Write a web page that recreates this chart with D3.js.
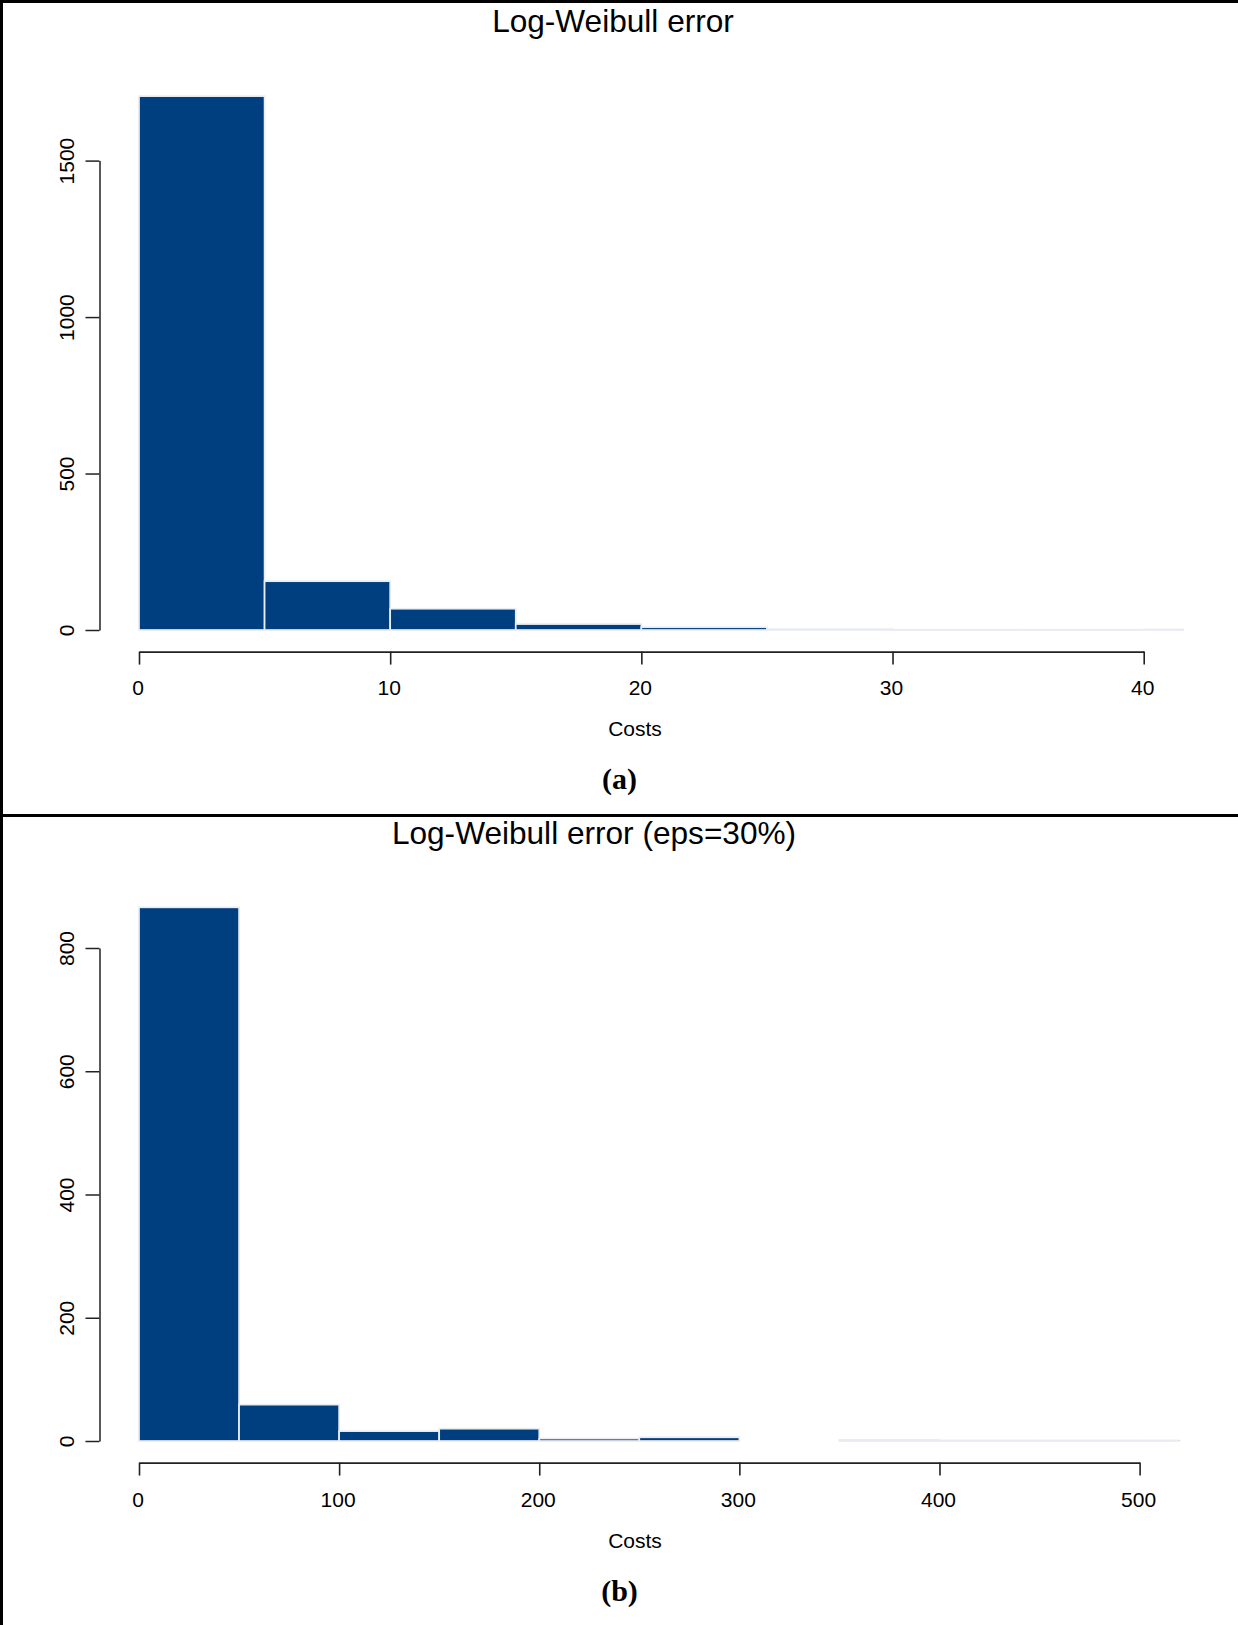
<!DOCTYPE html>
<html>
<head>
<meta charset="utf-8">
<script src="https://cdn.jsdelivr.net/npm/d3@7"></script>
<style>
  html, body { margin: 0; padding: 0; background: #fff; }
  svg { display: block; }
</style>
</head>
<body>
<svg id="chart" width="1238" height="1625"></svg>
<script>
// ---- data ----
const titleA = "Log-Weibull error";
const binEdgesA = [0, 5, 10, 15, 20, 25, 30, 35, 40, 45];
const countsA = [1706, 156, 68, 19, 9, 3, 1, 1, 2];
const xTicksA = [0, 10, 20, 30, 40];
const yTicksA = [0, 500, 1000, 1500];

const titleB = "Log-Weibull error (eps=30%)";
const binEdgesB = [0, 50, 100, 150, 200, 250, 300, 350, 400, 450, 500, 550];
const countsB = [866, 59, 16, 20, 4, 6, 0, 2, 1, 1, 1];
const xTicksB = [0, 100, 200, 300, 400, 500];
const yTicksB = [0, 200, 400, 600, 800];

const xLabel = "Costs";
const panelLabels = ["(a)", "(b)"];

// ---- drawing ----
const svg = d3.select("#chart");
svg.append("rect").attr("width", 1238).attr("height", 1625).attr("fill", "#fff");

const SANS = "'Liberation Sans', Arial, Helvetica, sans-serif";
const SERIF = "'Liberation Serif', 'Times New Roman', serif";
const FILL = "#003f7f";
const BORDER = "#e9ecf1";

function panel(cfg) {
  const g = svg.append("g").attr("transform", `translate(0,${cfg.offset})`);
  const left = 99.5;
  const x = d3.scaleLinear().domain([0, cfg.xTicks[cfg.xTicks.length - 1]]).range([139, cfg.xEnd]);
  const y = d3.scaleLinear().domain([0, cfg.yTicks[cfg.yTicks.length - 1]]).range([cfg.y0, cfg.yTop]);
  const axisY = cfg.y0 + 21.6;
  const right = x(x.domain()[1] * 1.04);

  const clipId = "clip" + cfg.id;
  g.append("clipPath").attr("id", clipId)
    .append("rect").attr("x", left).attr("y", 0).attr("width", right - left).attr("height", axisY);

  const bins = cfg.counts.map((c, i) => ({ x0: cfg.edges[i], x1: cfg.edges[i + 1], c }));
  g.append("g").attr("clip-path", `url(#${clipId})`)
    .selectAll("rect").data(bins).join("rect")
    .attr("x", d => x(d.x0))
    .attr("width", d => x(d.x1) - x(d.x0))
    .attr("y", d => y(d.c))
    .attr("height", d => y(0) - y(d.c))
    .attr("fill", FILL)
    .attr("stroke", BORDER)
    .attr("stroke-width", 1.7);

  // y axis
  const ya = g.append("g").attr("transform", `translate(${left},0)`)
    .call(d3.axisLeft(y).tickValues(cfg.yTicks).tickSize(14).tickSizeOuter(0).tickFormat(d3.format("d")));
  ya.selectAll("path, line").attr("stroke", "#222").attr("stroke-width", 1.5);
  ya.selectAll("text")
    .attr("x", 0).attr("dy", "0.35em")
    .attr("text-anchor", "middle")
    .attr("transform", `translate(${66.5 - left},0) rotate(-90)`)
    .attr("font-family", SANS).attr("font-size", 21).attr("fill", "#000");
  ya.attr("font-family", null).attr("font-size", null);

  // x axis
  const xa = g.append("g").attr("transform", `translate(0,${axisY})`)
    .call(d3.axisBottom(x).tickValues(cfg.xTicks).tickSize(13).tickSizeOuter(0).tickFormat(d3.format("d")));
  xa.selectAll("path, line").attr("stroke", "#222").attr("stroke-width", 1.6);
  xa.selectAll("text")
    .attr("x", -1.5)
    .attr("y", 688 - axisY).attr("dy", "0.35em")
    .attr("font-family", SANS).attr("font-size", 21).attr("fill", "#000");
  xa.attr("font-family", null).attr("font-size", null);

  // title
  g.append("text").attr("x", cfg.titleX).attr("y", 21).attr("dy", "0.35em")
    .attr("text-anchor", "middle").attr("font-family", SANS).attr("font-size", 31.6)
    .attr("fill", "#000").text(cfg.title);
  // x label
  g.append("text").attr("x", 635).attr("y", 729).attr("dy", "0.35em")
    .attr("text-anchor", "middle").attr("font-family", SANS).attr("font-size", 21)
    .attr("fill", "#000").text(xLabel);
  // panel label
  g.append("text").attr("x", 619.5).attr("y", 778).attr("dy", "0.35em")
    .attr("text-anchor", "middle").attr("font-family", SERIF).attr("font-size", 30)
    .attr("font-weight", "bold").attr("fill", "#000").text(cfg.label);
}

panel({ id: "A", offset: 0, title: titleA, titleX: 613, edges: binEdgesA, counts: countsA,
        xTicks: xTicksA, yTicks: yTicksA, xEnd: 1143.7, y0: 630, yTop: 160.6, label: panelLabels[0] });
panel({ id: "B", offset: 812, title: titleB, titleX: 594, edges: binEdgesB, counts: countsB,
        xTicks: xTicksB, yTicks: yTicksB, xEnd: 1139.6, y0: 1441 - 812, yTop: 948 - 812, label: panelLabels[1] });

// frame lines
svg.append("line").attr("x1", 1.5).attr("x2", 1.5).attr("y1", 0).attr("y2", 1625)
  .attr("stroke", "#000").attr("stroke-width", 3);
svg.append("line").attr("x1", 0).attr("x2", 1238).attr("y1", 1.5).attr("y2", 1.5)
  .attr("stroke", "#000").attr("stroke-width", 3);
svg.append("line").attr("x1", 0).attr("x2", 1238).attr("y1", 815.5).attr("y2", 815.5)
  .attr("stroke", "#000").attr("stroke-width", 3);
</script>
</body>
</html>
